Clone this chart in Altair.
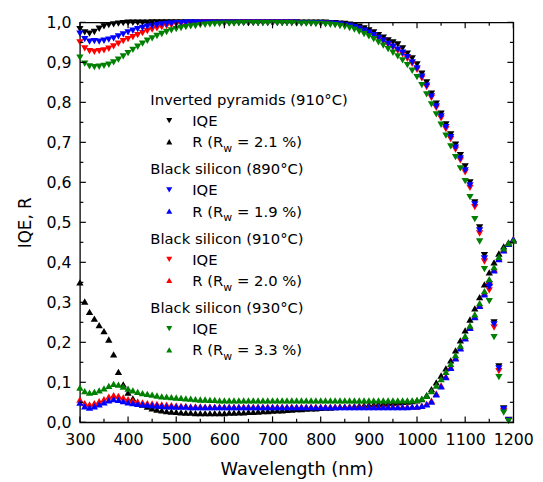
import altair as alt
import pandas as pd

FONT = "DejaVu Sans"

wavelength = [
    300, 310, 320, 330, 340, 350, 360, 370, 380, 390,
    400, 410, 420, 430, 440, 450, 460, 470, 480, 490,
    500, 510, 520, 530, 540, 550, 560, 570, 580, 590,
    600, 610, 620, 630, 640, 650, 660, 670, 680, 690,
    700, 710, 720, 730, 740, 750, 760, 770, 780, 790,
    800, 810, 820, 830, 840, 850, 860, 870, 880, 890,
    900, 910, 920, 930, 940, 950, 960, 970, 980, 990,
    1000, 1010, 1020, 1030, 1040, 1050, 1060, 1070, 1080, 1090,
    1100, 1110, 1120, 1130, 1140, 1150, 1160, 1170, 1180, 1190,
    1200,
]

# IQE (300 ... 1190 nm)
iqe_ip = [
    0.983, 0.975, 0.972, 0.976, 0.984, 0.990, 0.993, 0.995, 0.997, 0.998,
    0.999, 0.999, 0.999, 0.999, 0.999, 1.000, 1.000, 1.000, 1.000, 1.000,
    1.000, 1.000, 1.000, 1.000, 1.000, 1.000, 1.000, 1.000, 1.000, 1.000,
    1.000, 1.000, 1.000, 1.000, 1.000, 1.000, 1.000, 1.000, 1.000, 1.000,
    1.000, 1.000, 1.000, 1.000, 1.000, 1.000, 0.999, 0.999, 0.999, 0.999,
    0.999, 0.999, 0.998, 0.998, 0.997, 0.996, 0.994, 0.992, 0.989, 0.985,
    0.980, 0.975, 0.968, 0.962, 0.955, 0.950, 0.945, 0.935, 0.922, 0.910,
    0.895, 0.872, 0.850, 0.822, 0.797, 0.772, 0.745, 0.720, 0.694, 0.668,
    0.640, 0.600, 0.550, 0.487, 0.418, 0.345, 0.250, 0.140, 0.035, 0.006,
]
iqe_890 = [
    0.972, 0.958, 0.952, 0.953, 0.952, 0.954, 0.957, 0.960, 0.965, 0.970,
    0.975, 0.979, 0.983, 0.986, 0.989, 0.991, 0.993, 0.995, 0.996, 0.997,
    0.998, 0.998, 0.999, 0.999, 0.999, 0.999, 0.999, 0.999, 0.999, 0.999,
    0.999, 0.999, 0.999, 0.999, 0.999, 0.999, 0.999, 0.999, 0.999, 0.999,
    0.999, 0.999, 0.999, 0.999, 0.999, 0.999, 0.998, 0.998, 0.998, 0.998,
    0.998, 0.997, 0.997, 0.996, 0.995, 0.993, 0.991, 0.988, 0.984, 0.979,
    0.974, 0.968, 0.961, 0.954, 0.946, 0.939, 0.932, 0.924, 0.913, 0.900,
    0.885, 0.864, 0.842, 0.815, 0.790, 0.765, 0.738, 0.713, 0.687, 0.660,
    0.630, 0.592, 0.545, 0.480, 0.410, 0.338, 0.245, 0.135, 0.032, 0.005,
]
iqe_910 = [
    0.950, 0.935, 0.928, 0.926, 0.928, 0.930, 0.934, 0.940, 0.947, 0.953,
    0.958, 0.963, 0.968, 0.973, 0.978, 0.982, 0.985, 0.988, 0.991, 0.993,
    0.995, 0.996, 0.997, 0.998, 0.998, 0.999, 0.999, 0.999, 0.999, 0.999,
    0.999, 0.999, 0.999, 0.999, 0.999, 0.999, 0.999, 0.999, 0.999, 0.999,
    0.999, 0.999, 0.999, 0.999, 0.999, 0.999, 0.998, 0.998, 0.998, 0.998,
    0.998, 0.997, 0.996, 0.995, 0.994, 0.992, 0.990, 0.987, 0.983, 0.978,
    0.972, 0.966, 0.959, 0.952, 0.944, 0.937, 0.929, 0.920, 0.909, 0.896,
    0.881, 0.860, 0.838, 0.811, 0.786, 0.760, 0.733, 0.708, 0.682, 0.655,
    0.625, 0.586, 0.538, 0.472, 0.402, 0.330, 0.237, 0.128, 0.028, 0.004,
]
iqe_930 = [
    0.912, 0.897, 0.890, 0.888, 0.889, 0.891, 0.894, 0.900, 0.907, 0.915,
    0.923, 0.931, 0.939, 0.947, 0.954, 0.960, 0.966, 0.971, 0.976, 0.980,
    0.983, 0.986, 0.988, 0.990, 0.991, 0.993, 0.994, 0.995, 0.996, 0.996,
    0.997, 0.997, 0.997, 0.998, 0.998, 0.998, 0.998, 0.998, 0.998, 0.998,
    0.998, 0.998, 0.998, 0.998, 0.998, 0.997, 0.997, 0.997, 0.997, 0.996,
    0.996, 0.995, 0.994, 0.993, 0.991, 0.989, 0.986, 0.982, 0.977, 0.971,
    0.965, 0.958, 0.950, 0.942, 0.933, 0.924, 0.915, 0.905, 0.893, 0.879,
    0.863, 0.843, 0.820, 0.795, 0.770, 0.744, 0.717, 0.690, 0.663, 0.635,
    0.603, 0.563, 0.508, 0.452, 0.383, 0.303, 0.213, 0.113, 0.024, 0.003,
]

# Reflectance (300 ... 1200 nm)
r_ip = [
    0.350, 0.302, 0.276, 0.259, 0.243, 0.228, 0.207, 0.170, 0.126, 0.095,
    0.074, 0.060, 0.050, 0.044, 0.039, 0.035, 0.032, 0.030, 0.028, 0.027,
    0.026, 0.025, 0.024, 0.024, 0.023, 0.023, 0.023, 0.023, 0.023, 0.023,
    0.023, 0.024, 0.024, 0.025, 0.025, 0.026, 0.026, 0.027, 0.028, 0.028,
    0.029, 0.030, 0.030, 0.031, 0.032, 0.033, 0.033, 0.034, 0.035, 0.035,
    0.036, 0.037, 0.037, 0.038, 0.039, 0.039, 0.040, 0.041, 0.042, 0.043,
    0.044, 0.045, 0.046, 0.047, 0.048, 0.049, 0.050, 0.051, 0.052, 0.053,
    0.055, 0.058, 0.068, 0.083, 0.100, 0.117, 0.135, 0.155, 0.180, 0.205,
    0.230, 0.257, 0.285, 0.313, 0.345, 0.375, 0.400, 0.422, 0.440, 0.450,
    0.455,
]
r_890 = [
    0.049, 0.040, 0.037, 0.040, 0.045, 0.050, 0.055, 0.058, 0.056, 0.053,
    0.050, 0.048, 0.046, 0.045, 0.044, 0.043, 0.042, 0.041, 0.040, 0.040,
    0.039, 0.039, 0.039, 0.038, 0.038, 0.038, 0.038, 0.038, 0.038, 0.038,
    0.038, 0.038, 0.038, 0.038, 0.038, 0.038, 0.038, 0.038, 0.038, 0.038,
    0.038, 0.038, 0.038, 0.038, 0.038, 0.038, 0.038, 0.038, 0.038, 0.038,
    0.038, 0.038, 0.038, 0.038, 0.038, 0.038, 0.038, 0.038, 0.038, 0.038,
    0.038, 0.038, 0.038, 0.038, 0.038, 0.038, 0.038, 0.038, 0.038, 0.039,
    0.039, 0.041, 0.045, 0.052, 0.070, 0.090, 0.113, 0.136, 0.160, 0.185,
    0.210, 0.236, 0.263, 0.291, 0.320, 0.350, 0.380, 0.408, 0.430, 0.446,
    0.458,
]
r_910 = [
    0.057, 0.048, 0.045, 0.048, 0.053, 0.058, 0.064, 0.068, 0.066, 0.062,
    0.058, 0.055, 0.052, 0.050, 0.048, 0.047, 0.046, 0.045, 0.044, 0.043,
    0.042, 0.041, 0.041, 0.040, 0.040, 0.040, 0.039, 0.039, 0.039, 0.039,
    0.039, 0.039, 0.039, 0.039, 0.039, 0.039, 0.039, 0.039, 0.039, 0.039,
    0.039, 0.039, 0.039, 0.039, 0.039, 0.039, 0.039, 0.039, 0.039, 0.039,
    0.039, 0.039, 0.039, 0.039, 0.039, 0.039, 0.039, 0.039, 0.039, 0.039,
    0.039, 0.039, 0.039, 0.039, 0.039, 0.039, 0.039, 0.039, 0.039, 0.039,
    0.039, 0.041, 0.046, 0.054, 0.072, 0.092, 0.115, 0.138, 0.162, 0.187,
    0.212, 0.238, 0.265, 0.293, 0.323, 0.353, 0.383, 0.410, 0.432, 0.447,
    0.458,
]
r_930 = [
    0.087, 0.078, 0.074, 0.076, 0.080, 0.085, 0.091, 0.096, 0.094, 0.089,
    0.084, 0.080, 0.076, 0.073, 0.071, 0.069, 0.067, 0.065, 0.064, 0.063,
    0.062, 0.061, 0.060, 0.059, 0.058, 0.057, 0.057, 0.056, 0.056, 0.055,
    0.055, 0.055, 0.055, 0.055, 0.055, 0.055, 0.055, 0.055, 0.055, 0.055,
    0.055, 0.055, 0.055, 0.055, 0.055, 0.055, 0.055, 0.055, 0.055, 0.055,
    0.055, 0.055, 0.055, 0.055, 0.055, 0.055, 0.055, 0.055, 0.055, 0.055,
    0.055, 0.055, 0.055, 0.055, 0.055, 0.055, 0.055, 0.055, 0.055, 0.055,
    0.056, 0.059, 0.066, 0.078, 0.092, 0.108, 0.126, 0.146, 0.168, 0.192,
    0.216, 0.242, 0.270, 0.298, 0.328, 0.358, 0.388, 0.414, 0.435, 0.448,
    0.455,
]

group_names = [
    "Inverted pyramids (910°C)",
    "Black silicon (890°C)",
    "Black silicon (910°C)",
    "Black silicon (930°C)",
]
group_colors = ["#000000", "#0000ff", "#ff0000", "#008000"]
group_rw = ["2.1", "1.9", "2.0", "3.3"]
group_iqe = [iqe_ip, iqe_890, iqe_910, iqe_930]
group_r = [r_ip, r_890, r_910, r_930]
draw_rank = [0, 2, 1, 3]  # black, red, blue, green from back to front

x_major = [300, 400, 500, 600, 700, 800, 900, 1000, 1100, 1200]
x_minor = [350, 450, 550, 650, 750, 850, 950, 1050, 1150]
y_major = [0.0, 0.1, 0.2, 0.3, 0.4, 0.5, 0.6, 0.7, 0.8, 0.9, 1.0]
y_minor = [0.05, 0.15, 0.25, 0.35, 0.45, 0.55, 0.65, 0.75, 0.85, 0.95]

W, H = 440, 406

rows = []
for g in range(4):
    for w, v in zip(wavelength, group_iqe[g]):
        rows.append(dict(wl=w, v=v, col=group_colors[g], shp="triangle-down", ord=draw_rank[g] * 2))
    for w, v in zip(wavelength, group_r[g]):
        rows.append(dict(wl=w, v=v, col=group_colors[g], shp="triangle-up", ord=draw_rank[g] * 2 + 1))
df = pd.DataFrame(rows).sort_values("ord", kind="stable")

xscale = alt.Scale(domain=[300, 1200], nice=False, zero=False)
yscale = alt.Scale(domain=[0, 1], nice=False, zero=False)

xaxis = alt.Axis(
    values=x_major, format="d", ticks=False, domain=False, grid=False,
    labelOverlap=False, labelFlush=False,
    labelFontSize=16, labelPadding=10, title="Wavelength (nm)",
    titleFontSize=18, titlePadding=13)
yaxis = alt.Axis(
    values=y_major, labelExpr="replace(format(datum.value, '.1f'), '.', ',')",
    labelOverlap=False, labelFlush=False,
    ticks=False, domain=False, grid=False, labelFontSize=16, labelPadding=9,
    title="IQE, R", titleFontSize=17, titlePadding=12)

points = alt.Chart(df).mark_point(filled=True, size=55, opacity=1, strokeWidth=0).encode(
    x=alt.X("wl:Q", scale=xscale, axis=xaxis),
    y=alt.Y("v:Q", scale=yscale, axis=yaxis),
    color=alt.Color("col:N", scale=None),
    shape=alt.Shape("shp:N", scale=None),
    order=alt.Order("ord:Q"),
)


def xticks(vals, length, top):
    d = pd.DataFrame({"wl": vals})
    y0, y1 = (0, length) if top else (H, H - length)
    return alt.Chart(d).mark_rule(color="black", strokeWidth=1.2).encode(
        x=alt.X("wl:Q", scale=xscale, axis=xaxis), y=alt.value(y0), y2=alt.value(y1))


def yticks(vals, length, right):
    d = pd.DataFrame({"v": vals})
    x0, x1 = (W, W - length) if right else (0, length)
    return alt.Chart(d).mark_rule(color="black", strokeWidth=1.2).encode(
        y=alt.Y("v:Q", scale=yscale, axis=yaxis), x=alt.value(x0), x2=alt.value(x1))


tick_layers = [
    xticks(x_major, 6, False), xticks(x_minor, 3.5, False),
    xticks(x_major, 6, True), xticks(x_minor, 3.5, True),
    yticks(y_major, 6, False), yticks(y_minor, 3.5, False),
    yticks(y_major, 6, True), yticks(y_minor, 3.5, True),
]

one = pd.DataFrame({"a": [0]})


def txt(x, y, s, fs=15):
    return alt.Chart(one).mark_text(
        text=s, align="left", baseline="alphabetic", font=FONT, fontSize=fs, color="black"
    ).encode(x=alt.value(x), y=alt.value(y))


def marker(x, y, shape, color):
    return alt.Chart(one).mark_point(
        filled=True, shape=shape, size=38, color=color, opacity=1, strokeWidth=0
    ).encode(x=alt.value(x), y=alt.value(y))


legend_layers = []
LX_HEAD, LX_MARK, LX_TEXT = 71.5, 90.7, 114
for g in range(4):
    hb = 83.7 + 70.4 * g
    ib = hb + 21.5
    rb = hb + 43.0
    legend_layers.append(txt(LX_HEAD, hb, group_names[g]))
    legend_layers.append(marker(LX_MARK, ib - 5.5, "triangle-down", group_colors[g]))
    legend_layers.append(txt(LX_TEXT, ib, "IQE"))
    legend_layers.append(marker(LX_MARK, rb - 5.5, "triangle-up", group_colors[g]))
    legend_layers.append(txt(LX_TEXT, rb, "R (R"))
    legend_layers.append(txt(LX_TEXT + 31.5, rb + 5.0, "w", fs=11))
    legend_layers.append(txt(LX_TEXT + 45.5, rb, "= " + group_rw[g] + " %)"))

chart = alt.layer(points, *tick_layers, *legend_layers).properties(
    width=W, height=H,
    autosize=alt.AutoSizeParams(type="none"),
    padding={"left": 73, "top": 11, "right": 22, "bottom": 55},
).configure_view(
    stroke="black", strokeWidth=1.3
).configure_axis(
    labelFont=FONT, titleFont=FONT, labelColor="black", titleColor="black",
    titleFontWeight="normal",
)

chart.save("out.html", embed_options={"renderer": "svg", "actions": False})
